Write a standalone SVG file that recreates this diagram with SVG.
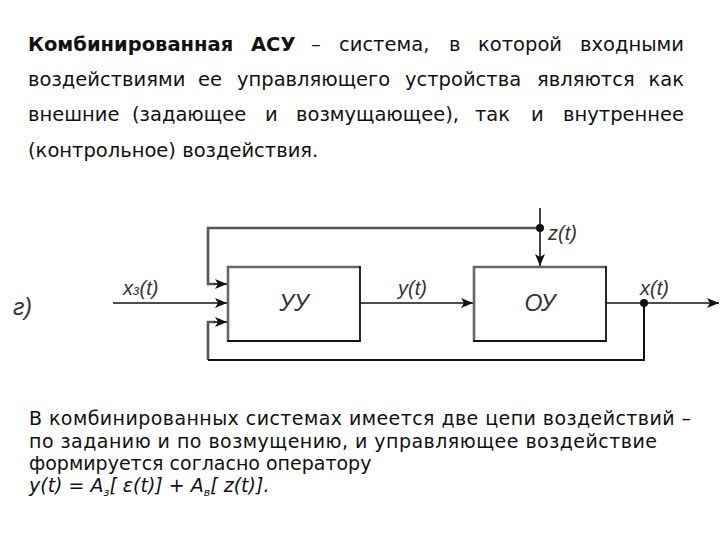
<svg xmlns="http://www.w3.org/2000/svg" width="720" height="540" viewBox="0 0 720 540">
<style>
.p{font-family:"DejaVu Sans",Verdana,sans-serif;font-size:19.5px;fill:#111}
.b{font-weight:bold}
.q{font-family:"DejaVu Sans",Verdana,sans-serif;font-size:19px;fill:#111}
.lbl{font-family:"Liberation Sans",Arial,sans-serif;font-style:italic;font-size:20px;fill:#333}
.big{font-family:"Liberation Sans",Arial,sans-serif;font-style:italic;font-size:23px;fill:#333}
.sig{fill:none;stroke:#111;stroke-width:1.6}
.fb{fill:none;stroke:#555;stroke-width:2.6}
.bx1{fill:#fff;stroke:none}
.edgeL{fill:none;stroke:#666;stroke-width:2.6}
.edgeR{fill:none;stroke:#111;stroke-width:1.8}
</style>
<defs>
<marker id="ah" viewBox="0 0 12 10" refX="12" refY="5" markerWidth="12" markerHeight="10" markerUnits="userSpaceOnUse" orient="auto">
<path d="M0,0 L12,5 L0,10 L3,5 Z" fill="#111"/>
</marker>
</defs>
<rect width="720" height="540" fill="#fff"/>

<g id="text-top">
<text class="p" y="51"><tspan class="b" x="28">Комбинированная</tspan><tspan class="b" x="251">АСУ</tspan><tspan x="311">–</tspan><tspan x="339">система,</tspan><tspan x="449">в</tspan><tspan x="478">которой</tspan></text>
<text class="p" y="51" x="684" text-anchor="end">входными</text>
<text class="p" y="86"><tspan x="28">воздействиями</tspan><tspan x="198">ее</tspan><tspan x="237">управляющего</tspan><tspan x="405">устройства</tspan><tspan x="537">являются</tspan></text>
<text class="p" y="86" x="684" text-anchor="end">как</text>
<text class="p" y="121"><tspan x="28">внешние</tspan><tspan x="132">(задающее</tspan><tspan x="265">и</tspan><tspan x="296">возмущающее),</tspan><tspan x="475">так</tspan><tspan x="531">и</tspan></text>
<text class="p" y="121" x="684" text-anchor="end">внутреннее</text>
<text class="p" y="157" x="28">(контрольное) воздействия.</text>
</g>

<g id="connectors">
<line class="sig" x1="113" y1="303" x2="227" y2="303" marker-end="url(#ah)"/>
<polyline class="fb" points="540,228 208,228 208,284 215,284"/>
<line class="sig" x1="214" y1="284" x2="227" y2="284" marker-end="url(#ah)"/>
<polyline class="fb" points="215,322 208,322 208,360"/>
<line class="sig" x1="214" y1="322" x2="227" y2="322" marker-end="url(#ah)"/>
<polyline class="sig" points="208,360 644,360 644,303" style="stroke-width:2"/>
<line class="sig" x1="360" y1="303" x2="473" y2="303" marker-end="url(#ah)"/>
<line class="sig" x1="540" y1="208" x2="540" y2="266" marker-end="url(#ah)"/>
<line class="sig" x1="606" y1="303" x2="719" y2="303" marker-end="url(#ah)"/>
<circle cx="540" cy="228" r="4" fill="#111"/>
<circle cx="644" cy="303" r="4" fill="#111"/>
</g>

<g id="node-uu">
<rect class="bx1" x="227" y="266" width="133" height="75"/>
<polyline class="edgeL" points="228,341 228,267 360,267"/>
<polyline class="edgeR" points="360,266 360,341 227,341"/>
<text class="big" x="294" y="311" text-anchor="middle">УУ</text>
</g>

<g id="node-ou">
<rect class="bx1" x="473" y="266" width="133" height="75"/>
<polyline class="edgeL" points="474,341 474,267 606,267"/>
<polyline class="edgeR" points="606,266 606,341 473,341"/>
<text class="big" x="540" y="311" text-anchor="middle">ОУ</text>
</g>

<g id="labels">
<text class="big" x="13" y="315">г)</text>
<text class="lbl" x="123" y="295">x<tspan style="font-size:14px">з</tspan>(t)</text>
<text class="lbl" x="398" y="295">y(t)</text>
<text class="lbl" x="548" y="240">z(t)</text>
<text class="lbl" x="640" y="295">x(t)</text>
</g>

<g id="text-bottom">
<text class="q" x="29" y="425" textLength="662" lengthAdjust="spacing">В комбинированных системах имеется две цепи воздействий –</text>
<text class="q" x="29" y="448" textLength="628" lengthAdjust="spacing">по заданию и по возмущению, и управляющее воздействие</text>
<text class="q" x="29" y="470">формируется согласно оператору</text>
<text class="q" x="29" y="492" font-style="italic">y(t) = A<tspan style="font-size:11px" dy="4">з</tspan><tspan dy="-4">[ ε(t)] + A</tspan><tspan style="font-size:11px" dy="4">в</tspan><tspan dy="-4">[ z(t)].</tspan></text>
</g>
</svg>
